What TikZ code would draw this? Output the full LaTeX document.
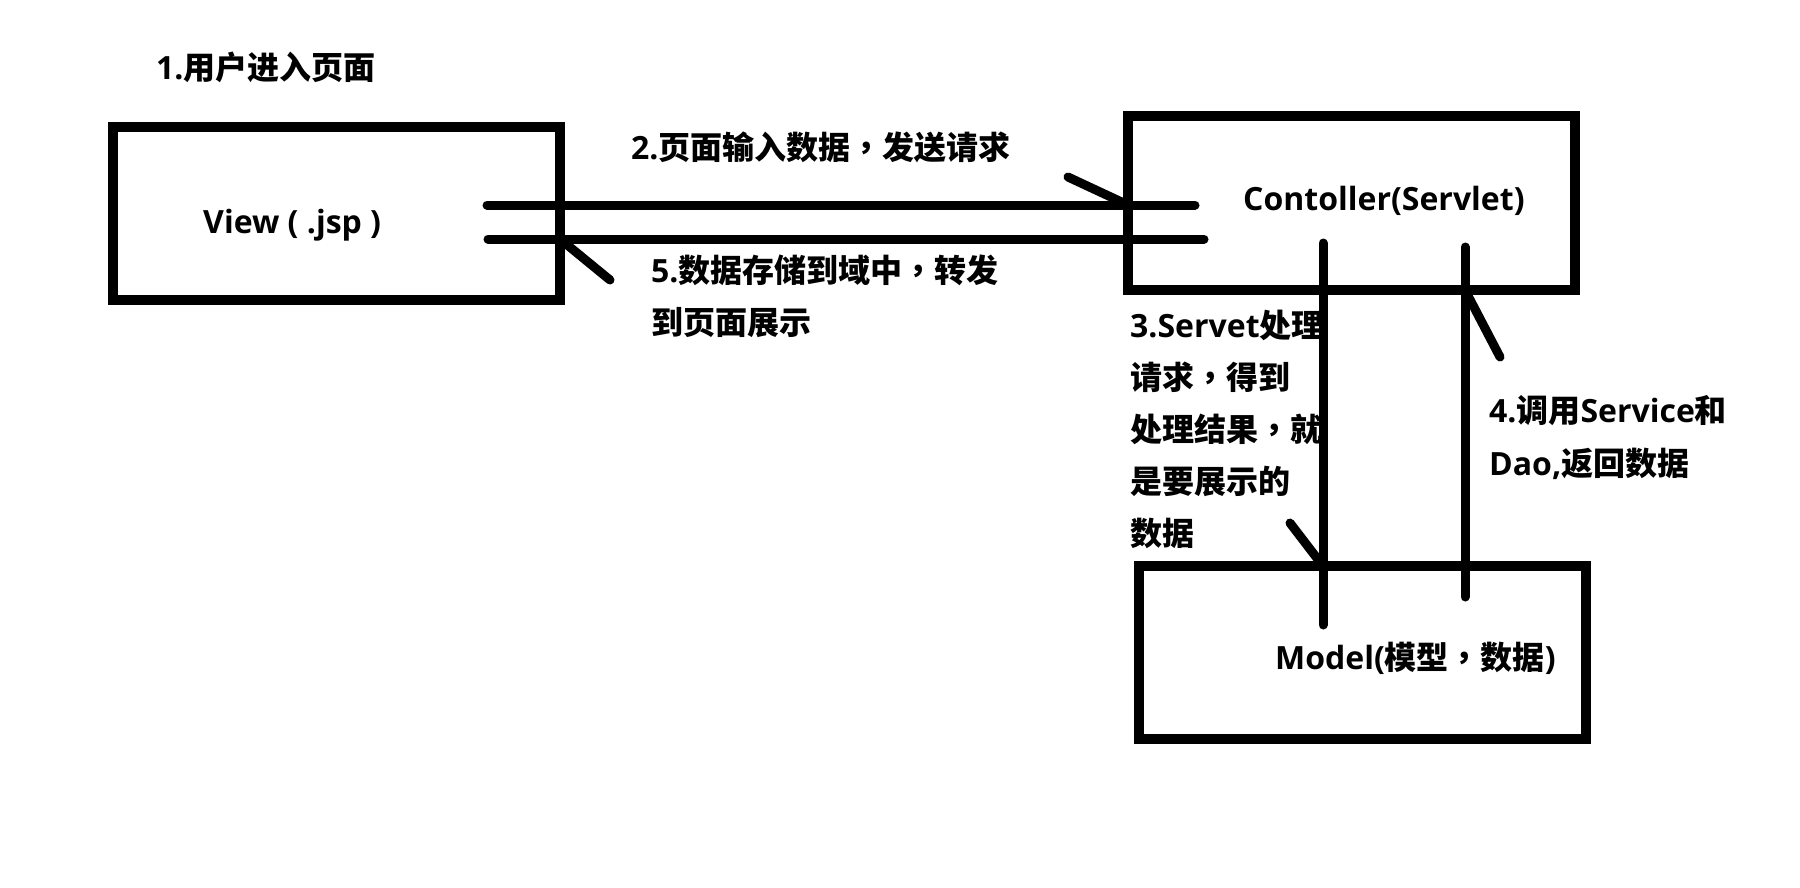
\documentclass[tikz,border=0pt]{standalone}
\usepackage{fontspec}
\setmainfont{Open Sans}
\newfontfamily\cj{Noto Sans CJK SC}
\newfontfamily\cjtc{Noto Sans CJK TC}
\newcommand{\zc}{{\cjtc ，}}
\begin{document}
\begin{tikzpicture}[x=1pt,y=-1pt,
  box/.style={draw, line width=10pt, minimum width=447pt, minimum height=173pt, inner sep=0pt, outer sep=0pt},
  conn/.style={line width=9pt, line cap=round},
  barb/.style={line width=9pt, line cap=round},
  lbl/.style={anchor=west, inner sep=0pt, font=\fontsize{32}{38}\selectfont\bfseries, text height=28pt, text depth=4pt}]
\fill[white] (0,0) rectangle (1800,887);
\useasboundingbox (0,0) rectangle (1800,887);

% texts
\node[lbl] (t1) at (156,67) {1.{\cj 用户进入页面}};
\node[lbl] (tv) at (203,221) {View ( .jsp )};
\node[lbl] (t2) at (631,147) {2.{\cj 页面输入数据}\zc{\cj 发送请求}};
\node[lbl] (t5a) at (651,270) {5.{\cj 数据存储到域中}\zc{\cj 转发}};
\node[lbl] (t5b) at (651,322) {\cj 到页面展示};
\node[lbl] (tctrl) at (1243,198) {Contoller(Servlet)};
\node[lbl] (t3a) at (1130,325) {3.Servet{\cj 处理}};
\node[lbl] (t3b) at (1130,377) {{\cj 请求}\zc{\cj 得到}};
\node[lbl] (t3c) at (1130,429) {{\cj 处理结果}\zc{\cj 就}};
\node[lbl] (t3d) at (1130,481) {\cj 是要展示的};
\node[lbl] (t3e) at (1130,533) {\cj 数据};
\node[lbl] (t4a) at (1489,410) {4.{\cj 调用}Service{\cj 和}};
\node[lbl] (t4b) at (1489,463) {Dao,{\cj 返回数据}};
\node[lbl] (tm) at (1275,657) {Model({\cj 模型}\zc{\cj 数据})};

% boxes
\node[box] (view) at (336.5,213.5) {};
\node[box, minimum height=174pt] (ctrl) at (1351.5,203) {};
\node[box] (model) at (1362.5,652.5) {};

% connector end points
\coordinate (a1) at (487,205); \coordinate (a2) at (1195,205);
\coordinate (b1) at (488,239); \coordinate (b2) at (1204,239);
\coordinate (c1) at (1323,243); \coordinate (c2) at (1323,625);
\coordinate (d1) at (1465,597); \coordinate (d2) at (1465,247);
\coordinate (ta) at (ctrl.west |- a1);
\coordinate (tb) at (view.east |- b1);
\coordinate (tcc) at (c1 |- model.north);
\coordinate (td) at (d1 |- ctrl.south);

\draw[conn] (a1) -- (a2);
\draw[conn] (b2) -- (b1);
\draw[conn] (c1) -- (c2);
\draw[conn] (d1) -- (d2);

\draw[barb] (ta) -- ++(-60,-28);
\draw[barb] (tb) -- ++(50,41);
\draw[barb] (tcc) -- ++(-33,-43);
\draw[barb] (td) -- ++(35,67);
\end{tikzpicture}
\end{document}
